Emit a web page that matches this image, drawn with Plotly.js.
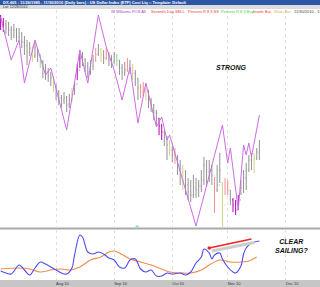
<!DOCTYPE html>
<html><head><meta charset="utf-8">
<script src="https://cdn.plot.ly/plotly-3.0.1.min.js"></script>
<style>html,body{margin:0;padding:0;background:#fff;overflow:hidden}#chart{width:320px;height:287px}</style>
</head><body><div id="chart"></div>
<script>
// ---- data ----
const firstDay = '2010-07-01';
// daily bars, bar index 1..99 (index counts trading days from firstDay)
const barOpen  = [84.25,84.40,84.30,84.15,84.00,83.75,83.95,83.65,83.80,83.40,83.20,82.90,83.05,82.75,83.05,82.70,82.40,82.10,81.90,81.75,81.55,81.20,80.90,80.60,80.50,80.60,80.30,80.50,80.80,81.30,82.00,82.60,82.50,82.20,81.90,82.20,82.50,82.80,83.00,82.75,82.60,82.80,82.50,82.40,82.65,82.50,82.10,81.90,82.00,82.25,82.10,81.85,81.60,81.10,80.90,81.00,80.90,80.50,80.25,79.90,79.60,79.20,78.90,78.60,78.25,78.00,77.75,77.60,77.25,76.90,76.50,76.25,75.90,75.75,76.10,76.00,76.20,76.50,77.25,76.90,77.00,76.75,76.00,76.25,76.25,75.25,76.10,76.00,75.50,75.25,75.00,75.50,76.10,76.60,77.00,77.50,77.50,77.60,77.90];
const barHigh  = [84.75,84.60,84.50,84.40,84.20,84.30,84.10,84.10,83.90,83.70,83.50,83.40,83.20,83.40,83.10,82.80,82.50,82.30,82.10,81.90,81.70,81.30,81.00,80.75,80.90,80.70,80.80,81.10,81.40,82.30,82.80,82.90,82.60,82.40,82.50,82.75,83.10,83.30,83.10,83.00,83.10,82.90,82.75,82.90,82.80,82.50,82.30,82.40,82.60,82.50,82.30,82.00,81.60,81.30,81.40,81.30,81.00,80.60,80.30,80.00,79.60,79.30,79.00,78.70,78.50,78.20,78.10,77.75,77.50,77.25,77.00,76.60,76.50,76.75,76.60,76.50,77.00,77.65,77.50,77.50,77.25,76.65,77.25,77.85,76.40,76.60,76.50,76.00,75.60,75.50,75.75,76.50,77.00,77.35,77.75,77.85,77.85,78.10,78.50];
const barLow   = [84.00,83.90,83.80,83.70,83.50,83.60,83.40,83.50,83.10,82.75,82.25,82.70,82.40,82.60,82.40,82.10,81.60,81.50,81.40,81.20,80.90,80.50,80.25,80.10,80.30,79.90,80.10,80.40,80.75,81.50,82.10,82.20,81.90,81.60,81.75,82.00,82.40,82.70,82.40,82.30,82.50,82.20,82.10,82.30,82.20,81.75,81.50,81.70,81.90,81.80,81.50,81.20,80.50,80.60,80.70,80.50,80.10,79.90,79.50,79.25,78.75,78.50,78.20,77.50,77.70,77.40,77.30,76.75,76.25,76.00,75.75,75.50,75.40,75.60,75.60,75.65,75.90,76.25,76.15,76.40,76.25,74.85,75.90,76.35,74.15,75.75,75.75,75.25,74.90,74.75,75.00,75.75,75.85,76.00,76.90,77.00,76.85,77.50,77.50];
const barClose = [84.40,84.25,84.10,84.00,83.75,84.00,83.65,83.85,83.40,83.25,82.90,83.10,82.70,83.10,82.75,82.40,82.10,81.90,81.70,81.60,81.25,80.90,80.60,80.50,80.60,80.25,80.50,80.75,81.20,82.00,82.60,82.50,82.20,81.90,82.20,82.50,82.80,83.00,82.75,82.60,82.80,82.50,82.40,82.65,82.50,82.10,81.90,82.00,82.25,82.10,81.85,81.60,81.10,80.90,81.00,80.90,80.50,80.25,79.90,79.60,79.20,78.90,78.60,78.25,78.00,77.75,77.60,77.25,76.90,76.50,76.25,75.90,75.75,76.10,76.00,76.20,76.50,77.25,76.90,77.00,76.75,76.00,76.25,77.00,75.25,76.10,76.00,75.50,75.25,75.00,75.50,76.10,76.60,77.00,77.50,77.50,77.60,77.90,78.25];

// bars flagged by each study (bar indices)
const sigWilliamsPos = [1,2,30,31,61,62,89,90,91];
const sigSell        = [37,41,49,54,55,67,82,86,87];
const sigBuy         = [16,45];
const sigShortBar    = [13,21,28,39,51,56,65,70,85,97];

// Williams POS swing line (bar index, price)
const swingIdx = [1,5,8,10,14,18,20,26,31,34,38,41,44,47,50,53,56,60,62,64,65,75,85,87,88,91,93,94,95,96,99];
const swingVal = [84.65,82.50,83.50,81.35,83.50,81.75,82.10,79.00,83.00,81.35,84.75,83.15,82.00,80.50,82.15,79.35,81.35,79.15,79.65,78.50,78.75,74.20,79.25,77.35,78.10,75.00,78.25,77.75,78.35,77.65,79.75];

// lower panel oscillator (bar index, value 0-100)
const oscIdx = [1,3,5,8,10,12,14,16,18,20,22,24,26,28,29,31,32,34,36,38,40,42,44,46,48,50,52,54,56,58,60,62,64,66,69,71,73,75,77,78,80,81,82,84,85,87,89,90,92,93,94,96,99];
const oscVal = [18,14,12,30,20,10,24,36,32,26,20,14,12,24,50,90,86,56,52,56,52,44,40,26,24,40,42,22,16,20,8,8,14,12,14,10,16,34,46,62,54,42,50,54,42,26,16,14,28,52,64,74,78];
const maIdx = [1,8,12,16,20,24,27,31,35,39,42,44,46,50,54,58,61,65,69,73,77,80,84,88,92,95,98];
const maVal = [22,24,22,16,20,22,20,26,40,46,56,58,54,42,36,30,24,16,14,14,20,30,40,36,36,38,46];

const tickFormat = '%b %y';

// ---- build ----
function tradingDays(start, n){
  const out=[]; const d=new Date(start+'T00:00:00Z');
  while(out.length<n){ const w=d.getUTCDay(); if(w!==0&&w!==6) out.push(d.toISOString().slice(0,10)); d.setUTCDate(d.getUTCDate()+1); }
  return out;
}
const days = tradingDays(firstDay, 125);
const allBars = barClose.map((_,k)=>k+1);
const flagged = new Set([].concat(sigWilliamsPos,sigSell,sigBuy,sigShortBar));
function ohlc(idxs, color){
  return {type:'ohlc', xaxis:'x', yaxis:'y',
    x: idxs.map(i=>days[i]), open: idxs.map(i=>barOpen[i-1]), high: idxs.map(i=>barHigh[i-1]),
    low: idxs.map(i=>barLow[i-1]), close: idxs.map(i=>barClose[i-1]), tickwidth:0.25,
    increasing:{line:{color:color,width:1}}, decreasing:{line:{color:color,width:1}}, hoverinfo:'skip'};
}
const traces = [
  ohlc(allBars.filter(i=>!flagged.has(i)), '#929292'),
  ohlc(sigShortBar, '#d4cf86'),
  ohlc(sigSell, '#f29090'),
  ohlc(sigBuy, '#86e086'),
  ohlc(sigWilliamsPos, '#b000b4'),
  {type:'scatter', mode:'lines', xaxis:'x', yaxis:'y', x: swingIdx.map(i=>days[i]), y: swingVal,
   line:{color:'#cc6ee0', width:1}, hoverinfo:'skip'},
  {type:'scatter', mode:'lines', xaxis:'x', yaxis:'y2', x: maIdx.map(i=>days[i]), y: maVal,
   line:{color:'#f28a4c', width:1.1, shape:'spline', smoothing:1}, hoverinfo:'skip'},
  {type:'scatter', mode:'lines', xaxis:'x', yaxis:'y2', x: oscIdx.map(i=>days[i]), y: oscVal,
   line:{color:'#4b4bf2', width:1.1, shape:'spline', smoothing:1}, hoverinfo:'skip'}
];

const H = 287, TOP = 10, BOT = 280, PH = BOT-TOP;
const py = p => (BOT - p) / PH;   // pixel row -> paper y
const F = 'Liberation Sans, Arial, sans-serif';
const legendItems = [
  ['W Williams POS All', '#b040c0', 110],
  ['Seventh Day SELL', '#f03434', 150],
  ['Percent R 8 3 SS', '#f03434', 187],
  ['Percent R 8 3 Buy', '#38d838', 220],
  ['Inside Bar', '#f03434', 252],
  ['Short Bar', '#c4bc60', 273],
  ['11/30/2010 - 11', '#444444', 293]
];
const annotations = legendItems.map(([t,c,x])=>({text:t, xref:'paper', yref:'paper', x:x/320, y:py(11.5),
  xanchor:'left', yanchor:'middle', showarrow:false, font:{family:F,size:4,color:c}, borderpad:0}));
annotations.push(
  {text:'<b>DX-605 : 11/26/1985 - 11/30/2010 (Daily bars) : US Dollar Index (ETF) Cost Liq :: Template: Default</b>',
   xref:'paper', yref:'paper', x:2/320, y:py(2.5), xanchor:'left', yanchor:'middle', showarrow:false, borderpad:0,
   font:{family:F,size:4,color:'#ffffff'}},
  {text:'Lat: 12/28/2010', xref:'paper', yref:'paper', x:2/320, y:py(6.8), xanchor:'left', yanchor:'middle',
   showarrow:false, borderpad:0, font:{family:F,size:3.5,color:'#333'}},
  {text:'<b><i>STRONG</i></b>', xref:'paper', yref:'paper', x:231/320, y:py(67.5), xanchor:'center', yanchor:'middle',
   showarrow:false, font:{family:F,size:7,color:'#111'}},
  {text:'<b><i>CLEAR<br>SAILING?</i></b>', xref:'paper', yref:'paper', x:291/320, y:py(245.5), xanchor:'center', yanchor:'middle',
   showarrow:false, font:{family:F,size:7,color:'#111'}},
  {text:'◆', xref:'paper', yref:'paper', x:137/320, y:py(226), xanchor:'center', yanchor:'middle',
   showarrow:false, font:{family:'DejaVu Sans',size:5,color:'#a6dbe6'}}
);

const shapes = [
  {type:'rect', xref:'paper', yref:'paper', x0:0, x1:1, y0:py(5), y1:py(-2), fillcolor:'#2b56a6', line:{width:0}, layer:'below'},
  {type:'rect', xref:'paper', yref:'paper', x0:0, x1:1, y0:py(9), y1:py(5), fillcolor:'#dcdcdc', line:{width:0}, layer:'below'},
  {type:'rect', xref:'paper', yref:'paper', x0:0, x1:1, y0:py(289), y1:py(280), fillcolor:'#c6c6c6', line:{width:0}, layer:'below'},
  {type:'line', xref:'paper', yref:'paper', x0:0, x1:1, y0:py(228.5), y1:py(228.5), line:{color:'#a9a9a9', width:2}, layer:'below'},
  {type:'line', xref:'x', yref:'y2', x0:days[81], y0:58, x1:days[97], y1:75, line:{color:'#cdcdcd', width:3}},
  {type:'line', xref:'x', yref:'y2', x0:days[80], y0:64, x1:days[96], y1:82, line:{color:'#ee2424', width:1.5}},
  {type:'circle', xref:'x', yref:'y2', xsizemode:'pixel', ysizemode:'pixel', xanchor:days[80], yanchor:64,
   x0:-1.8, x1:1.8, y0:-1.8, y1:1.8, fillcolor:'#ee2424', line:{width:0}}
];

const layout = {
  width:320, height:H, margin:{l:0,r:0,t:TOP,b:H-BOT,pad:0},
  paper_bgcolor:'#ffffff', plot_bgcolor:'rgba(0,0,0,0)', showlegend:false,
  xaxis:{type:'date', anchor:'y2', range:['2010-07-01 18:00','2010-12-17 23:00'],
    rangebreaks:[{bounds:['sat','mon']}], rangeslider:{visible:false},
    dtick:'M1', tick0:'2010-08-01', tickformat:tickFormat, ticks:'', ticklabelposition:'outside right',
    showgrid:true, gridcolor:'#e0e0e0', griddash:'dot', gridwidth:1, zeroline:false, showline:false,
    tickfont:{family:F,size:4,color:'#333'}, fixedrange:true},
  yaxis:{domain:[py(228),1], range:[74.1,85.0], showticklabels:false, showgrid:false, zeroline:false, ticks:'', fixedrange:true},
  yaxis2:{domain:[0,py(230)], range:[0,100], showticklabels:false, showgrid:false, zeroline:false, ticks:'', fixedrange:true},
  shapes, annotations
};
Plotly.newPlot('chart', traces, layout, {staticPlot:true, displayModeBar:false});
</script></body></html>
